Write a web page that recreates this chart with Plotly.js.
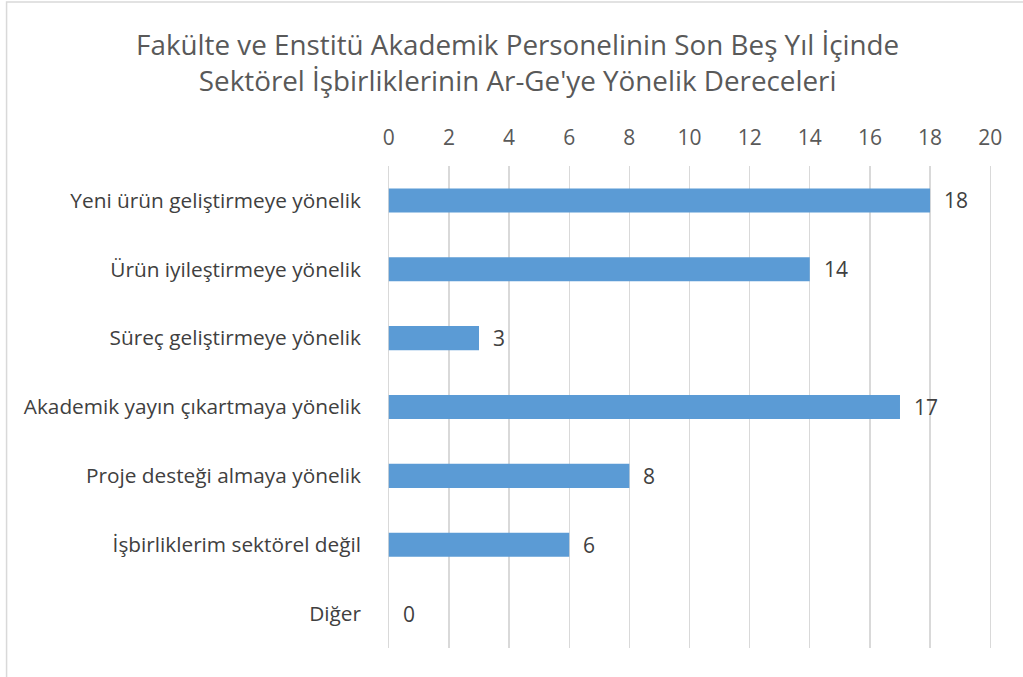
<!DOCTYPE html>
<html><head><meta charset="utf-8">
<script src="https://cdn.plot.ly/plotly-3.0.1.min.js"></script>
<style>html,body{margin:0;padding:0;background:#fff;}#chart{width:1023px;height:677px;}</style>
</head><body><div id="chart"></div>
<script>
const categories = [
  "Yeni ürün geliştirmeye yönelik",
  "Ürün iyileştirmeye yönelik",
  "Süreç geliştirmeye yönelik",
  "Akademik yayın çıkartmaya yönelik",
  "Proje desteği almaya yönelik",
  "İşbirliklerim sektörel değil",
  "Diğer"
];
const values = [18, 14, 3, 17, 8, 6, 0];
const tickValues = [0, 2, 4, 6, 8, 10, 12, 14, 16, 18, 20];
const chartTitle = "Fakülte ve Enstitü Akademik Personelinin Son Beş Yıl İçinde<br>Sektörel İşbirliklerinin Ar-Ge'ye Yönelik Dereceleri";

const FONT = "'Open Sans', sans-serif";
const X0 = 389, X20 = 990, T = 166, B = 648;
const u = (X20 - X0) / 20;
const padU = 0.06;
const L = X0 - padU * u, R = X20 + padU * u;
const pw = R - L, ph = B - T;

const trace = {
  type: 'bar', orientation: 'h',
  y: categories, x: values,
  marker: {color: '#5B9BD5', line: {width: 0}},
  width: 0.35,
  hoverinfo: 'x+y'
};

const labels = values.map((v, i) => ({
  x: v, y: categories[i], xref: 'x', yref: 'y',
  text: String(v), showarrow: false, xanchor: 'left', yanchor: 'middle',
  xshift: 12, font: {family: FONT, size: 21, color: '#404040'}
}));

const layout = {
  width: 1023, height: 677,
  margin: {l: L, r: 1023 - R, t: T, b: 677 - B, pad: 0},
  paper_bgcolor: '#fff', plot_bgcolor: '#fff',
  font: {family: FONT, color: '#595959'},
  showlegend: false,
  title: {text: chartTitle, font: {family: FONT, size: 27.8, color: '#595959'},
          x: 0.506, xref: 'container', xanchor: 'center', y: 0.919, yref: 'container', yanchor: 'top'},
  xaxis: {
    side: 'top', range: [-padU, 20 + padU], tickvals: tickValues,
    showgrid: true, gridcolor: '#d9d9d9', gridwidth: 1.3,
    zeroline: false, showline: false, ticks: '',
    tickfont: {family: FONT, size: 21, color: '#595959'},
    ticklabelstandoff: 16, fixedrange: true
  },
  yaxis: {
    autorange: 'reversed', showgrid: false, zeroline: false, showline: false, ticks: '',
    tickfont: {family: FONT, size: 20.8, color: '#404040'},
    ticklabelstandoff: 25, fixedrange: true
  },
  annotations: labels,
  shapes: [{
    type: 'rect', xref: 'paper', yref: 'paper',
    x0: (7 - L) / pw, x1: (1040 - L) / pw,
    y0: (B - 700) / ph, y1: (B - 2) / ph,
    line: {color: '#d9d9d9', width: 1.5}, fillcolor: 'rgba(0,0,0,0)', layer: 'below'
  }]
};

Plotly.newPlot('chart', [trace], layout, {displayModeBar: false, staticPlot: true});
</script></body></html>
